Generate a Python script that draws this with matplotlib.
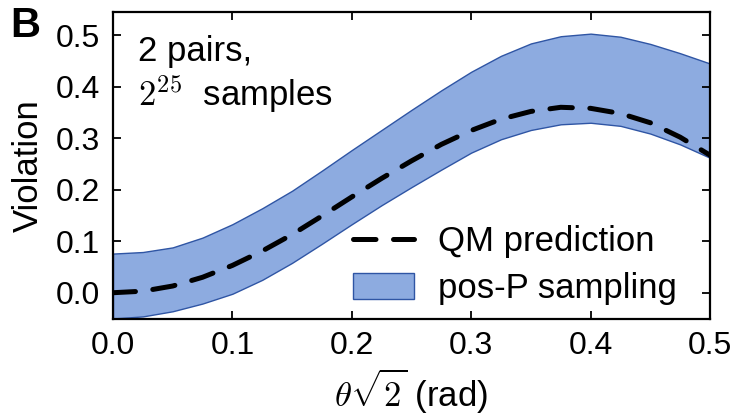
import matplotlib

matplotlib.use("Agg")
import matplotlib.pyplot as plt

# values
theta = [0.0, 0.025, 0.05, 0.075, 0.1, 0.125, 0.15, 0.175, 0.2, 0.225, 0.25,
         0.275, 0.3, 0.325, 0.35, 0.375, 0.4, 0.425, 0.45, 0.475, 0.5]
qm = [0.0, 0.003, 0.013, 0.030, 0.053, 0.081, 0.113, 0.149, 0.186, 0.222, 0.256,
      0.288, 0.315, 0.337, 0.352, 0.360, 0.358, 0.348, 0.330, 0.302, 0.267]
upper = [0.076, 0.079, 0.088, 0.107, 0.133, 0.164, 0.198, 0.237, 0.277, 0.316, 0.355,
         0.393, 0.429, 0.460, 0.484, 0.498, 0.503, 0.497, 0.483, 0.465, 0.445]
lower = [-0.050, -0.046, -0.036, -0.021, -0.002, 0.025, 0.058, 0.095, 0.133, 0.170, 0.205,
         0.239, 0.272, 0.298, 0.316, 0.327, 0.330, 0.324, 0.309, 0.288, 0.262]

xticks = [0.0, 0.1, 0.2, 0.3, 0.4, 0.5]
yticks = [0.0, 0.1, 0.2, 0.3, 0.4, 0.5]

plt.rcParams["font.family"] = ["Liberation Sans", "DejaVu Sans"]
plt.rcParams["mathtext.fontset"] = "cm"

fig = plt.figure(figsize=(7.35, 4.2), dpi=100)
ax = fig.add_axes([0.1537, 0.2405, 0.8123, 0.7309])

ax.fill_between(theta, lower, upper, facecolor="#8dabe0", edgecolor="#2f55a4",
                linewidth=1.0, label="pos-P sampling")
ax.plot(theta, qm, color="black", lw=3.6, dashes=(4.5, 3.5),
        dash_capstyle="round", label="QM prediction")

ax.set_xlim(0, 0.5)
ax.set_ylim(-0.051, 0.545)
ax.set_xticks(xticks)
ax.set_yticks(yticks)
ax.set_xticklabels([f"{t:.1f}" for t in xticks])
ax.set_yticklabels([f"{t:.1f}" for t in yticks])
ax.tick_params(direction="in", length=6, width=1.3, labelsize=23,
               top=True, right=True)
ax.tick_params(axis="x", pad=9)
ax.tick_params(axis="y", pad=9)
for sp in ax.spines.values():
    sp.set_linewidth(1.6)

ax.set_xlabel(r"$\theta\sqrt{2}$ (rad)", fontsize=25, labelpad=4)
ax.set_ylabel("Violation", fontsize=25, labelpad=8)

ax.text(0.042, 0.925, "2 pairs,\n$2^{25}$  samples", transform=ax.transAxes,
        fontsize=25, va="top", ha="left", linespacing=1.15)
fig.text(0.014, 0.985, "B", fontsize=30, fontweight="bold", va="top", ha="left")

handles, labels = ax.get_legend_handles_labels()
ax.legend(handles[::-1], labels[::-1], loc="lower right", frameon=False,
          fontsize=25, handlelength=1.75, handleheight=0.75, handletextpad=0.7,
          labelspacing=0.4, borderaxespad=0.0, bbox_to_anchor=(0.968, 0.0))

fig.savefig("out.png", dpi=100)
